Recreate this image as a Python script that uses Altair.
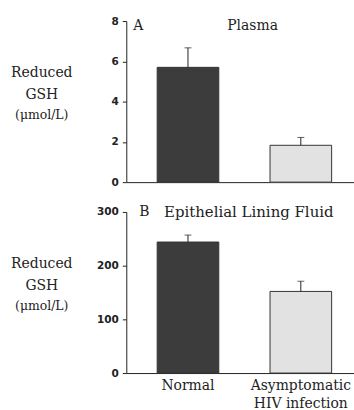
import altair as alt
import pandas as pd

groups = ["Normal", "Asymptomatic\nHIV infection"]
plasma_mean = [5.7, 1.83]
plasma_sem = [0.97, 0.39]
elf_mean = [244, 152]
elf_sem = [13, 19]
bar_fills = ["#3c3c3c", "#e2e2e2"]
ytitle_lines = ["Reduced", "GSH", "(\u03bcmol/L)"]
ytitle_sizes = [14, 14, 12.5]
ytitle_offsets = [52, 74, 95]

SERIF = "DejaVu Serif"
SANS = "DejaVu Sans"
W, H = 229, 162


def text_at(s, x, y, size, align="center"):
    return alt.Chart(pd.DataFrame({"t": [s]})).mark_text(
        font=SERIF, fontSize=size, align=align, baseline="middle", color="#222"
    ).encode(text="t:N", x=alt.value(x), y=alt.value(y))


def panel(means, sems, ymax, minor, major, letter, title, show_x, pos, title_align, tsize):
    df = pd.DataFrame({
        "group": groups,
        "mean": means,
        "top": [m + s for m, s in zip(means, sems)],
        "fill": bar_fills,
    })
    xscale = alt.Scale(domain=groups, paddingInner=0.454, paddingOuter=0.236, align=0.58)
    if show_x:
        xaxis = alt.Axis(title=None, ticks=False, labelAngle=0, labelFont=SERIF,
                         labelFontSize=14, labelColor="#222", labelPadding=6,
                         labelExpr="split(datum.label, '\\n')", labelLineHeight=18,
                         domainColor="#222")
    else:
        xaxis = alt.Axis(title=None, ticks=False, labels=False, domainColor="#222")
    yaxis = alt.Axis(title=None, grid=False, values=list(range(0, ymax + 1, minor)),
                     labelExpr=f"datum.value % {major} == 0 ? datum.label : ''",
                     labelFont=SANS, labelFontWeight="bold", labelFontSize=10.5,
                     labelColor="#222", tickSize=4, tickColor="#222",
                     domainColor="#222", labelPadding=4)
    x = alt.X("group:N", sort=groups, scale=xscale, axis=xaxis)
    yscale = alt.Scale(domain=[0, ymax], nice=False)
    base = alt.Chart(df)
    bars = base.mark_bar(stroke="#333", strokeWidth=1).encode(
        x=x,
        y=alt.Y("mean:Q", scale=yscale, axis=yaxis),
        fill=alt.Fill("fill:N", scale=None),
    )
    rule = base.mark_rule(color="#222", strokeWidth=1).encode(
        x=x, y=alt.Y("mean:Q", scale=yscale), y2="top:Q")
    cap = base.mark_tick(color="#222", thickness=1, size=7).encode(
        x=x, y=alt.Y("top:Q", scale=yscale))

    layers = [bars, rule, cap,
              text_at(letter, pos[0], pos[2], 14, "left"),
              text_at(title, pos[1], pos[2], tsize, title_align)]
    for s, sz, off in zip(ytitle_lines, ytitle_sizes, ytitle_offsets):
        layers.append(text_at(s, -85, off, sz))
    return alt.layer(*layers).properties(width=W, height=H)


pa = panel(plasma_mean, plasma_sem, 8, 1, 2, "A", "Plasma", False, (7, 127, 5), "center", 14)
pb = panel(elf_mean, elf_sem, 300, 50, 100, "B", "Epithelial Lining Fluid", True,
           (13, 38, 0), "left", 15)

chart = alt.vconcat(pa, pb, spacing=17).properties(
    padding={"left": 11, "top": 15, "right": 0, "bottom": 0},
    background="white",
).configure_view(stroke=None)

chart.save("out.html", embed_options={"renderer": "svg", "actions": False})
